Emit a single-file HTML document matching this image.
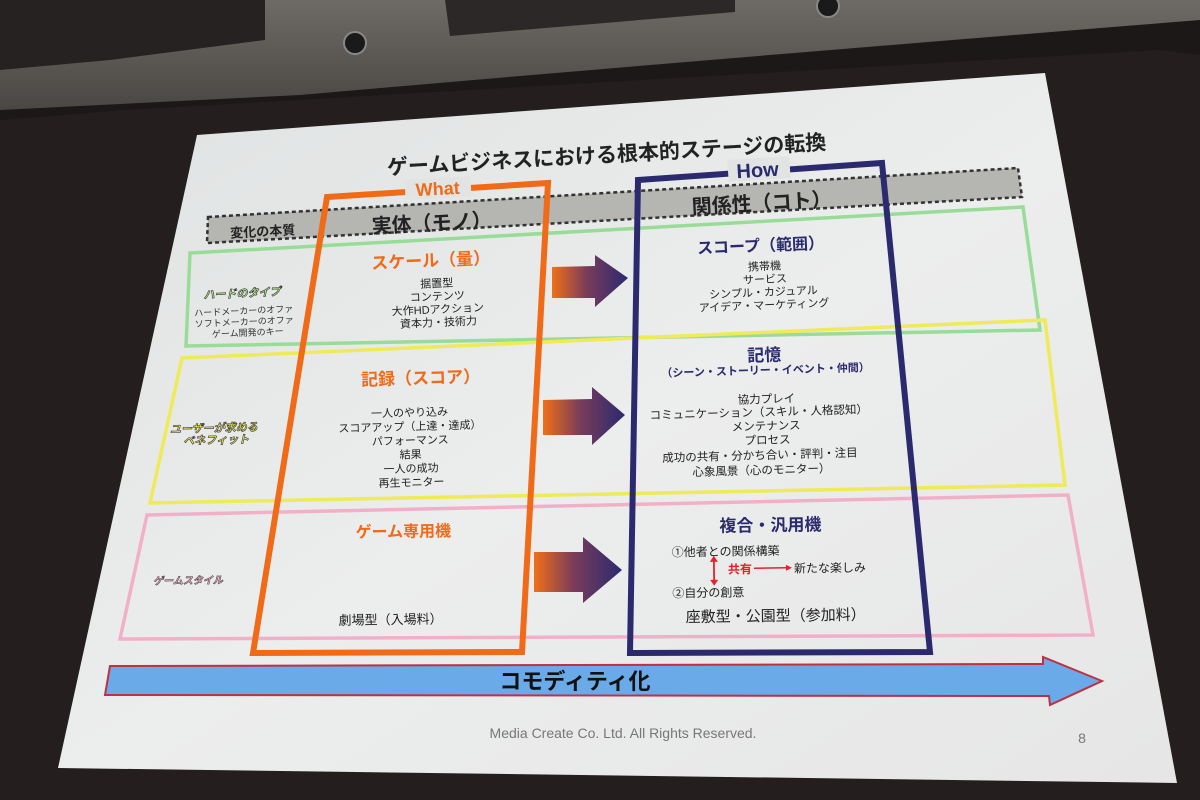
<!DOCTYPE html>
<html><head><meta charset="utf-8"><style>
html,body{margin:0;padding:0;background:#1c1818;}
svg{display:block}
text{font-family:"Liberation Sans","Noto Sans CJK JP",sans-serif;}
</style></head><body>
<svg width="1200" height="800" viewBox="0 0 1200 800" xmlns="http://www.w3.org/2000/svg">
<defs>
<linearGradient id="ag" x1="0" x2="1" y1="0" y2="0">
<stop offset="0" stop-color="#f07018"/><stop offset="0.45" stop-color="#7a3c5a"/><stop offset="1" stop-color="#2a2a70"/>
</linearGradient>
<linearGradient id="sg" x1="0" x2="1" y1="0" y2="1">
<stop offset="0" stop-color="#dfe2e2"/><stop offset="0.5" stop-color="#eceded"/><stop offset="1" stop-color="#e6e6e6"/>
</linearGradient>
<linearGradient id="cg" x1="0" x2="0" y1="0" y2="1">
<stop offset="0" stop-color="#6e6a66"/><stop offset="1" stop-color="#4a4643"/>
</linearGradient>
</defs>
<rect width="1200" height="800" fill="#1c1818"/>
<!-- ceiling -->
<path d="M0 0 H1200 V20 Q700 60 300 95 L0 110 Z" fill="url(#cg)"/>
<path d="M0 0 H265 V40 L110 60 L0 70 Z" fill="#262221"/>
<path d="M445 0 H735 V12 L450 36 Z" fill="#2c2827"/>
<circle cx="355" cy="43" r="11" fill="#1a1a1a" stroke="#888" stroke-width="2"/>
<circle cx="828" cy="6" r="11" fill="#1a1a1a" stroke="#888" stroke-width="2"/>
<path d="M125 110 L1160 50 L1200 55 V800 H0 V120 Z" fill="#241f1e"/>
<!-- slide -->
<polygon points="197,135 1045,73 1177,783 58,768" fill="url(#sg)"/>

<!-- title -->
<text x="607" y="162" font-size="21" font-weight="bold" text-anchor="middle" fill="#222" transform="rotate(-3.3 607 162)">ゲームビジネスにおける根本的ステージの転換</text>

<!-- gray bar -->
<polygon points="208,217 1018,168 1022,197 207,243" fill="#b5b5b1" stroke="#333" stroke-width="2.5" stroke-dasharray="4 3"/>

<!-- green box -->
<polygon points="190,253 1023,207 1040,330 186,346" fill="none" stroke="#98dc98" stroke-width="3.5"/>
<!-- yellow box -->
<polygon points="182,358 1045,320 1065,485 150,503" fill="none" stroke="#eeea58" stroke-width="3.5"/>
<!-- pink box -->
<polygon points="147,515 1068,495 1093,635 120,639" fill="none" stroke="#f2b0c8" stroke-width="3.5"/>

<!-- orange box -->
<polygon points="327,197 548,183 522,652 253,653" fill="none" stroke="#f06a18" stroke-width="6"/>
<rect x="405" y="178" width="66" height="20" fill="#e2e4e4" transform="rotate(-3 438 188)"/>
<text x="438" y="195" font-size="18" font-weight="bold" text-anchor="middle" fill="#f06a18" transform="rotate(-3 438 195)">What</text>
<!-- navy box -->
<polygon points="638,180 882,163 930,652 630,653" fill="none" stroke="#2c2a6e" stroke-width="6"/>
<rect x="728" y="158" width="62" height="22" fill="#e2e4e4" transform="rotate(-3.5 758 170)"/>
<text x="758" y="177" font-size="20" font-weight="bold" text-anchor="middle" fill="#2c2a6e" transform="rotate(-3.5 758 177)">How</text>

<!-- header labels -->
<text x="263" y="236" font-size="13" font-weight="bold" text-anchor="middle" fill="#222" transform="rotate(-3 263 236)">変化の本質</text>
<text x="432" y="230" font-size="20" font-weight="bold" text-anchor="middle" fill="#222" transform="rotate(-3 432 230)">実体（モノ）</text>
<text x="762" y="210" font-size="20" font-weight="bold" text-anchor="middle" fill="#222" transform="rotate(-3.2 762 210)">関係性（コト）</text>

<!-- row 1 -->
<g transform="rotate(-2.6 440 290)">
<text x="432" y="266" font-size="17" font-weight="bold" text-anchor="middle" fill="#f06a18">スケール（量）</text>
<g font-size="11" text-anchor="middle" fill="#222">
<text x="437" y="287">据置型</text><text x="437" y="300">コンテンツ</text><text x="437" y="313">大作HDアクション</text><text x="437" y="326">資本力・技術力</text>
</g>
<text x="242" y="288" font-size="11" font-weight="bold" font-style="italic" text-anchor="middle" fill="#b8e890" stroke="#333" stroke-width="0.6">ハードのタイプ</text>
<g font-size="9" text-anchor="middle" fill="#333">
<text x="243" y="305">ハードメーカーのオファ</text><text x="243" y="316">ソフトメーカーのオファ</text><text x="246" y="327">ゲーム開発のキー</text>
</g>
</g>
<g transform="rotate(-2.4 765 280)">
<text x="762" y="251" font-size="16" font-weight="bold" text-anchor="middle" fill="#2c2a6e">スコープ（範囲）</text>
<g font-size="11" text-anchor="middle" fill="#222">
<text x="765" y="270">携帯機</text><text x="765" y="283">サービス</text><text x="763" y="296">シンプル・カジュアル</text><text x="763" y="309">アイデア・マーケティング</text>
</g>
</g>

<!-- row 2 -->
<g transform="rotate(-1.6 420 430)">
<text x="422" y="384" font-size="17" font-weight="bold" text-anchor="middle" fill="#f06a18">記録（スコア）</text>
<g font-size="11" text-anchor="middle" fill="#222">
<text x="410" y="416">一人のやり込み</text><text x="410" y="430">スコアアップ（上達・達成）</text><text x="410" y="444">パフォーマンス</text><text x="410" y="458">結果</text><text x="410" y="472">一人の成功</text><text x="410" y="486">再生モニター</text>
</g>
<g font-size="11" font-weight="bold" font-style="italic" text-anchor="middle" fill="#eeea58" stroke="#333" stroke-width="0.6">
<text x="214" y="426">ユーザーが求める</text><text x="216" y="438">ベネフィット</text>
</g>
</g>
<g transform="rotate(-1.6 765 420)">
<text x="766" y="361" font-size="17" font-weight="bold" text-anchor="middle" fill="#2c2a6e">記憶</text>
<text x="767" y="374" font-size="11" font-weight="bold" text-anchor="middle" fill="#2c2a6e">（シーン・ストーリー・イベント・仲間）</text>
<g font-size="11.5" text-anchor="middle" fill="#222">
<text x="767" y="403">協力プレイ</text><text x="759" y="416">コミュニケーション（スキル・人格認知）</text><text x="766" y="430">メンテナンス</text><text x="767" y="444">プロセス</text><text x="759" y="459">成功の共有・分かち合い・評判・注目</text><text x="760" y="474">心象風景（心のモニター）</text>
</g>
</g>

<!-- row 3 -->
<g transform="rotate(-0.8 400 580)">
<text x="404" y="537" font-size="16" font-weight="bold" text-anchor="middle" fill="#f06a18">ゲーム専用機</text>
<text x="390" y="624" font-size="13" text-anchor="middle" fill="#222">劇場型（入場料）</text>
<text x="188" y="581" font-size="10" font-weight="bold" font-style="italic" text-anchor="middle" fill="#f2b0c8" stroke="#333" stroke-width="0.5">ゲームスタイル</text>
</g>
<g transform="rotate(-0.8 770 570)">
<text x="771" y="531" font-size="17" font-weight="bold" text-anchor="middle" fill="#2c2a6e">複合・汎用機</text>
<text x="672" y="555" font-size="12" fill="#222">①他者との関係構築</text>
<text x="728" y="573" font-size="12" font-weight="bold" fill="#e8202a">共有</text>
<line x1="754" y1="568" x2="786" y2="568" stroke="#e8202a" stroke-width="1.5"/>
<polygon points="786,565 792,568 786,571" fill="#e8202a"/>
<text x="794" y="573" font-size="12" fill="#222">新たな楽しみ</text>
<line x1="714" y1="559" x2="714" y2="581" stroke="#e8202a" stroke-width="1.8"/>
<polygon points="710,561 714,555 718,561" fill="#e8202a"/><polygon points="710,579 714,585 718,579" fill="#e8202a"/>
<text x="672" y="596" font-size="12" fill="#222">②自分の創意</text>
<text x="775" y="621" font-size="15" text-anchor="middle" fill="#222">座敷型・公園型（参加料）</text>
</g>

<!-- gradient arrows -->
<polygon points="552,267 595,266 595,255 628,278 595,307 595,298 552,298" fill="url(#ag)"/>
<polygon points="543,400 592,399 592,387 625,415 592,445 592,435 543,435" fill="url(#ag)"/>
<polygon points="534,552 583,552 583,537 622,570 583,603 583,592 534,592" fill="url(#ag)"/>

<!-- commodity arrow -->
<polygon points="110,666 1043,664 1043,657 1102,681 1050,705 1049,696 105,695" fill="#6aaae8" stroke="#c03040" stroke-width="2"/>
<text x="575" y="689" font-size="22" font-weight="bold" text-anchor="middle" fill="#111">コモディティ化</text>

<!-- footer -->
<text x="623" y="738" font-size="14" text-anchor="middle" fill="#777">Media Create Co. Ltd. All Rights Reserved.</text>
<text x="1082" y="743" font-size="14" text-anchor="middle" fill="#777">8</text>
</svg>
</body></html>
